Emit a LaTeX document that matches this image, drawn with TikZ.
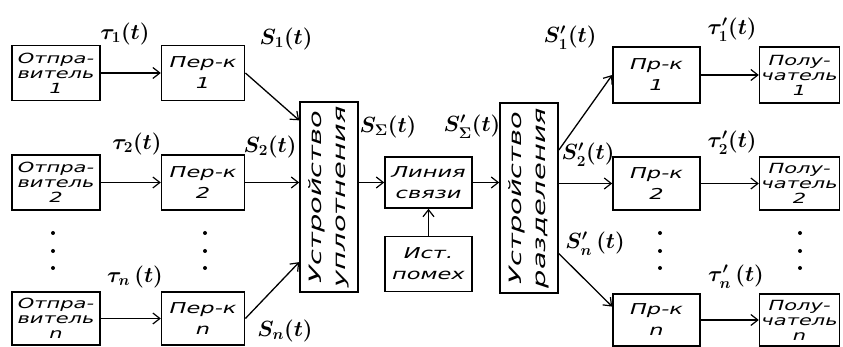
\RequirePackage{fix-cm}
\documentclass[tikz,border=0pt]{standalone}
\usepackage{fontspec}
\usepackage{tikz}
\usetikzlibrary{arrows.meta, positioning, calc}
\setmainfont{DejaVu Sans}
\newfontfamily\handfont[FakeStretch=1.5]{DejaVu Sans}
\newfontfamily\widehand[FakeStretch=1.7]{DejaVu Sans}
\tikzset{
  arrowK/.style={-{Straight Barb[length=7pt,width=11pt,line width=1.2pt]}, line width=1.3pt},
  boxK/.style={rectangle, draw, line width=1.6pt, align=center, inner sep=1pt,
               font=\handfont\itshape\fontsize{14}{15}\selectfont},
  boxTwo/.style={boxK, font=\handfont\itshape\fontsize{15}{21}\selectfont},
  boxTall/.style={rectangle, draw, line width=1.6pt, minimum width=58pt, minimum height=190pt},
  txtTall/.style={rotate=90, align=center, inner sep=0pt,
                  font=\widehand\itshape\fontsize{17}{24}\selectfont},
  lbl/.style={inner sep=0pt, font=\fontsize{22}{24}\selectfont\boldmath},
}
\begin{document}
\begin{tikzpicture}[x=1pt, y=1pt, node distance=60pt and 60pt]
  \useasboundingbox (0,0) rectangle (843,347);
  % senders and transmitters
  \node[boxK, minimum width=88pt, minimum height=55pt] (snd1) at (56,274) {Отпра-\\витель\\1};
  \node[boxK, minimum width=88pt, minimum height=55pt] (snd2) at (56,164.5) {Отпра-\\витель\\2};
  \node[boxK, minimum width=88pt, minimum height=53pt] (sndn) at (56,28.5) {Отпра-\\витель\\n};
  \node[boxTwo, minimum width=83pt, minimum height=55pt, right=of snd1] (per1) {Пер-к\\1};
  \node[boxTwo, minimum width=83pt, minimum height=55pt, right=of snd2] (per2) {Пер-к\\2};
  \node[boxTwo, minimum width=83pt, minimum height=53pt, right=of sndn] (pern) {Пер-к\\n};
  % multiplexer, line, noise
  \node[boxTall] (mux) at (329,150) {};
  \node[txtTall] (muxtxt) at (mux) {Устройство\\уплотнения};
  \node[boxTwo, minimum width=87pt, minimum height=51pt] (line) at (428.5,164.5) {Линия\\связи};
  \node[boxTwo, minimum width=87pt, minimum height=55pt, below=27pt of line] (noise) {Ист.\\помех};
  \node[boxTall] (demux) at (529,149) {};
  \node[txtTall] (demuxtxt) at (demux) {Устройство\\разделения};
  % receivers
  \node[boxTwo, minimum width=87pt, minimum height=56pt] (pr1) at (656.5,272) {Пр-к\\1};
  \node[boxTwo, minimum width=87pt, minimum height=53pt] (pr2) at (656.5,163.5) {Пр-к\\2};
  \node[boxTwo, minimum width=87pt, minimum height=52pt] (prn) at (656.5,27) {Пр-к\\n};
  \node[boxK, minimum width=80pt, minimum height=56pt, right=58pt of pr1] (rcv1) {Полу-\\чатель\\1};
  \node[boxK, minimum width=80pt, minimum height=53pt, right=58pt of pr2] (rcv2) {Полу-\\чатель\\2};
  \node[boxK, minimum width=80pt, minimum height=52pt, right=58pt of prn] (rcvn) {Полу-\\чатель\\n};
  % connectors
  \draw[arrowK] (snd1) -- (per1);
  \draw[arrowK] (snd2) -- (per2);
  \draw[arrowK] (sndn) -- (pern);
  \draw[arrowK] (per1.east) -- ($(mux.north west)!0.1!(mux.south west)$);
  \draw[arrowK] (per2) -- (per2 -| mux.west);
  \draw[arrowK] (pern.east) -- ($(mux.north west)!0.84!(mux.south west)$);
  \draw[arrowK] (mux.east |- line) -- (line);
  \draw[arrowK] (noise) -- (line);
  \draw[arrowK] (line) -- (line -| demux.west);
  \draw[arrowK] ($(demux.north east)!0.25!(demux.south east)$) -- (pr1.west);
  \draw[arrowK] (demux.east |- pr2) -- (pr2);
  \draw[arrowK] ($(demux.north east)!0.79!(demux.south east)$) -- ($(prn.north west)!0.25!(prn.south west)$);
  \draw[arrowK] (pr1) -- (rcv1);
  \draw[arrowK] (pr2) -- (rcv2);
  \draw[arrowK] (prn) -- (rcvn);
  % signal labels
  \node[lbl] (tau1) at (125,313) {$\tau_1(t)$};
  \node[lbl] (tau2) at (137,203) {$\tau_2(t)$};
  \node[lbl] (taun) at (135,70) {$\tau_n\,(t)$};
  \node[lbl] (s1) at (286,308) {$S_1(t)$};
  \node[lbl] (s2) at (270,200) {$S_2(t)$};
  \node[lbl] (sn) at (285,16) {$S_n(t)$};
  \node[lbl] (ssum) at (388,220) {$S_\Sigma(t)$};
  \node[lbl] (ssumr) at (472,220) {$S'_\Sigma(t)$};
  \node[lbl] (sr1) at (570,309) {$S'_1(t)$};
  \node[lbl] (sr2) at (588,192) {$S'_2(t)$};
  \node[lbl] (srn) at (595,103) {$S'_n\,(t)$};
  \node[lbl] (taur1) at (732,317) {$\tau'_1(t)$};
  \node[lbl] (taur2) at (732,204) {$\tau'_2(t)$};
  \node[lbl] (taurn) at (736,70) {$\tau'_n\,(t)$};
  % dots between rows
  \foreach \x in {53,205,660,800}
    \foreach \y in {114,96,79}
      \fill (\x,\y) circle (2pt);
\end{tikzpicture}
\end{document}
